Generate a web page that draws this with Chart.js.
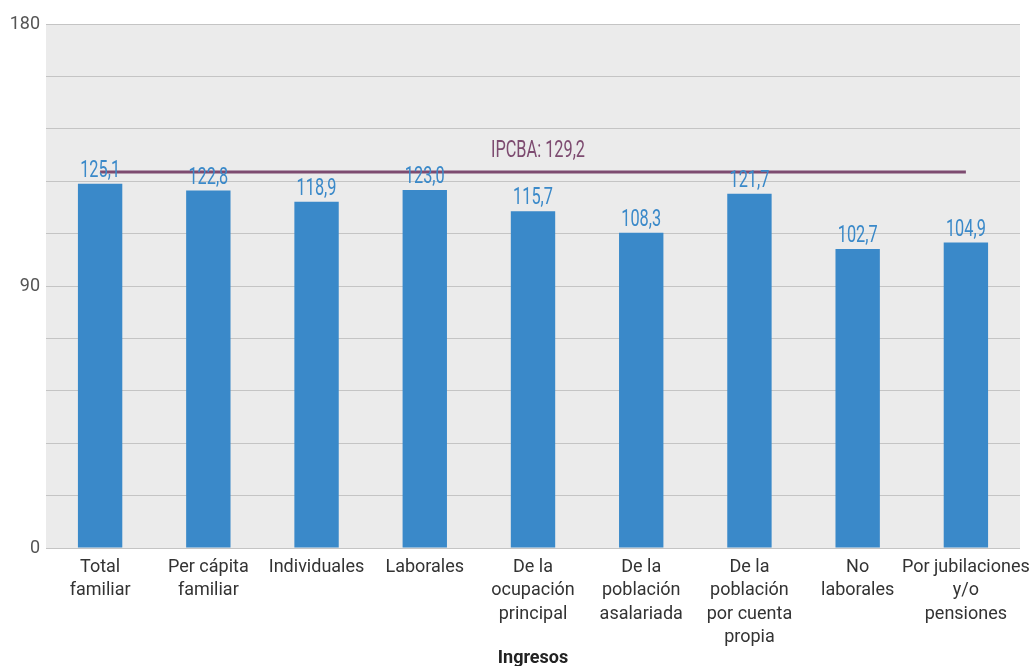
<!DOCTYPE html>
<html>
<head>
<meta charset="utf-8">
<script src="https://cdn.jsdelivr.net/npm/chart.js@4.4.1/dist/chart.umd.min.js"></script>
<style>
  html, body { margin: 0; padding: 0; background: #fff; }
  #wrap { width: 1030px; height: 666px; }
</style>
</head>
<body>
<div id="wrap"><canvas id="grafico" width="1030" height="666"></canvas></div>
<script>
const categorias = [
  ["Total", "familiar"],
  ["Per cápita", "familiar"],
  ["Individuales"],
  ["Laborales"],
  ["De la", "ocupación", "principal"],
  ["De la", "población", "asalariada"],
  ["De la", "población", "por cuenta", "propia"],
  ["No", "laborales"],
  ["Por jubilaciones", "y/o", "pensiones"]
];
const valores = [125.1, 122.8, 118.9, 123.0, 115.7, 108.3, 121.7, 102.7, 104.9];
const ipcba = 129.2;
const ticksY = [0, 90, 180];

const fuente = 'Roboto, "Noto Sans", sans-serif';
const fmt = v => v.toFixed(1).replace('.', ',');

const fondo = {
  id: 'fondo',
  beforeDraw(chart) {
    const { ctx, chartArea: a } = chart;
    ctx.save();
    ctx.fillStyle = '#ebebeb';
    ctx.fillRect(a.left, a.top, a.right - a.left, a.bottom - a.top);
    ctx.restore();
  }
};

// texto "condensado": se estrecha horizontalmente
function textoCondensado(ctx, txt, x, y) {
  ctx.save();
  ctx.translate(x, y);
  ctx.scale(0.68, 1);
  ctx.fillText(txt, 0, 0);
  ctx.restore();
}

const etiquetas = {
  id: 'etiquetas',
  afterDatasetsDraw(chart) {
    const { ctx } = chart;
    ctx.save();
    ctx.font = '24px ' + fuente;
    ctx.textAlign = 'center';
    ctx.textBaseline = 'bottom';
    ctx.fillStyle = '#3a89c9';
    chart.getDatasetMeta(1).data.forEach((bar, i) => {
      textoCondensado(ctx, fmt(valores[i]), bar.x, bar.y - 1);
    });
    const y = chart.scales.y.getPixelForValue(ipcba);
    ctx.fillStyle = '#7d4b70';
    textoCondensado(ctx, 'IPCBA: ' + fmt(ipcba), 538, y - 9);
    ctx.restore();
  }
};

new Chart(document.getElementById('grafico'), {
  data: {
    labels: categorias,
    datasets: [
      {
        type: 'line',
        label: 'IPCBA',
        data: valores.map(() => ipcba),
        borderColor: '#7d4b70',
        borderWidth: 3,
        pointRadius: 0,
        order: 0
      },
      {
        type: 'bar',
        label: 'Ingresos',
        data: valores,
        backgroundColor: '#3a89c9',
        categoryPercentage: 1,
        barPercentage: 0.41,
        order: 1
      }
    ]
  },
  options: {
    responsive: false,
    animation: false,
    layout: { padding: { top: 24, right: 10, left: 0, bottom: 0 } },
    plugins: {
      legend: { display: false },
      tooltip: { enabled: false }
    },
    scales: {
      x: {
        afterFit(scale) {
          scale.height = 118;
          scale.paddingLeft = 0;
          scale.paddingRight = 0;
        },
        grid: { display: false },
        border: { display: false },
        ticks: {
          color: '#333',
          font: { family: fuente, size: 18, lineHeight: 1.29 },
          maxRotation: 0,
          autoSkip: false,
          padding: 0
        },
        title: {
          display: true,
          text: 'Ingresos',
          color: '#222',
          font: { family: fuente, size: 18, weight: 'bold' },
          padding: { top: 4, bottom: -3 }
        }
      },
      y: {
        min: 0,
        max: 180,
        afterFit(scale) { scale.width = 46; },
        grid: { color: '#c4c4c4', lineWidth: 1, drawTicks: false },
        border: { display: false },
        ticks: {
          stepSize: 18,
          color: '#555',
          padding: 6,
          font: { family: fuente, size: 18 },
          callback: v => ticksY.includes(v) ? v : ''
        }
      }
    }
  },
  plugins: [fondo, etiquetas]
});
</script>
</body>
</html>
